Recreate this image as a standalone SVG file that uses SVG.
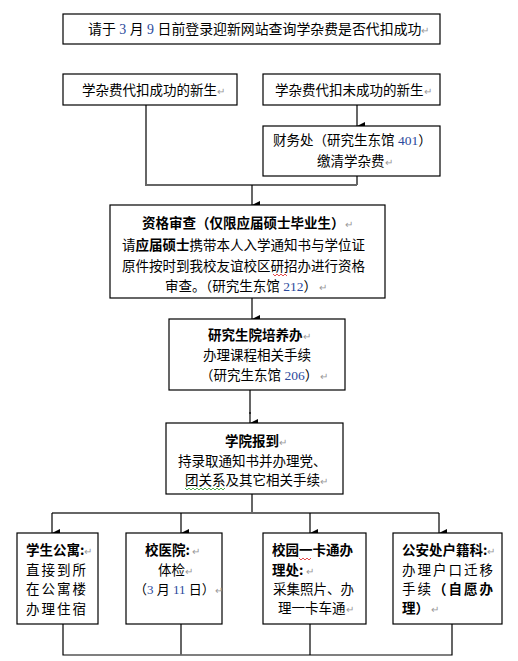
<svg xmlns="http://www.w3.org/2000/svg" width="518" height="661" viewBox="0 0 518 661">
<defs>
<style>
.box{fill:#fff;stroke:#000;stroke-width:1.2}
.t{font-family:"Noto Sans CJK SC","Noto Sans CJK JP",sans-serif;font-size:13.5px;fill:#000}
.b{font-weight:bold}
.n{font-family:"Liberation Serif",serif;fill:#2b4a9c}
.p{font-size:10px;fill:#999;font-weight:normal}
.ls{letter-spacing:2px}
.c{fill:none;stroke:#666;stroke-width:2}
.a{fill:none;stroke:#000;stroke-width:1.2}
.w{fill:none;stroke-width:0.8}
</style>
<marker id="ah" markerUnits="userSpaceOnUse" markerWidth="8" markerHeight="8" refX="4" refY="8" orient="auto-start-reverse" viewBox="0 0 8 8">
<path d="M0,0 L8,0 L4,8 Z" fill="#000"/>
</marker>
</defs>
<rect width="518" height="661" fill="#fff"/>

<g id="connectors">
<polyline class="c" points="146,105 146,185 357,185"/>
<line class="c" x1="357" y1="176" x2="357" y2="185"/>
<line class="a" x1="357" y1="105" x2="357" y2="126" marker-end="url(#ah)"/>
<line class="a" x1="252" y1="185" x2="252" y2="205" marker-end="url(#ah)"/>
<line class="a" x1="252" y1="298" x2="252" y2="319" marker-end="url(#ah)"/>
<line class="c" x1="250" y1="390" x2="250" y2="414"/>
<line class="a" x1="250" y1="412" x2="250" y2="423" marker-end="url(#ah)"/>
<line class="c" x1="252" y1="494" x2="252" y2="513"/>
<line class="c" x1="52" y1="513" x2="439" y2="513"/>
<line class="a" x1="52" y1="513" x2="52" y2="533" marker-end="url(#ah)"/>
<line class="a" x1="181" y1="513" x2="181" y2="533" marker-end="url(#ah)"/>
<line class="a" x1="310" y1="513" x2="310" y2="533" marker-end="url(#ah)"/>
<line class="a" x1="439" y1="513" x2="439" y2="533" marker-end="url(#ah)"/>
<polyline class="a" points="63,624 63,655 452,655 452,624"/>
<line class="c" x1="181" y1="624" x2="181" y2="655"/>
<line class="a" x1="310" y1="624" x2="310" y2="655"/>
</g>

<g id="n-top">
<rect class="box" x="63" y="14" width="377" height="30"/>
<text class="t" x="88" y="34" style="font-size:13.9px">请于<tspan class="n"> 3 </tspan>月<tspan class="n"> 9 </tspan>日前登录迎新网站查询学杂费是否代扣成功<tspan class="p">↵</tspan></text>
</g>

<g id="n-success">
<rect class="box" x="63" y="74" width="174" height="31"/>
<text class="t" x="82" y="95">学杂费代扣成功的新生<tspan class="p">↵</tspan></text>
</g>

<g id="n-fail">
<rect class="box" x="263" y="74" width="177" height="31"/>
<text class="t" x="275" y="95">学杂费代扣未成功的新生<tspan class="p">↵</tspan></text>
</g>

<g id="n-finance">
<rect class="box" x="263" y="126" width="177" height="50"/>
<text class="t" x="273" y="145">财务处（研究生东馆<tspan class="n"> 401</tspan>）</text>
<text class="t" x="317" y="166">缴清学杂费<tspan class="p">↵</tspan></text>
</g>

<g id="n-review">
<rect class="box" x="110" y="205" width="275" height="93"/>
<text class="t b" x="142" y="228">资格审查（仅限应届硕士毕业生）<tspan class="p">↵</tspan></text>
<text class="t" x="122" y="250">请<tspan class="b">应届硕士</tspan>携带本人入学通知书与学位证</text>
<text class="t" x="122" y="271">原件按时到我校友谊校区研招办进行资格</text>
<path class="w" stroke="#e02020" d="M273,274 l2,2 l2,-2 l2,2 l2,-2 l2,2 l2,-2 l2,2"/>
<text class="t" x="165" y="291">审查。（研究生东馆<tspan class="n"> 212</tspan>）<tspan class="p"> ↵</tspan></text>
</g>

<g id="n-training">
<rect class="box" x="169" y="319" width="176" height="71"/>
<text class="t b" x="208" y="340">研究生院培养办<tspan class="p">↵</tspan></text>
<text class="t" x="203" y="360">办理课程相关手续</text>
<text class="t" x="200" y="380">（研究生东馆<tspan class="n"> 206</tspan>）<tspan class="p"> ↵</tspan></text>
</g>

<g id="n-college">
<rect class="box" x="166" y="423" width="177" height="71"/>
<text class="t b" x="225" y="446">学院报到<tspan class="p">↵</tspan></text>
<text class="t" x="178" y="466">持录取通知书并办理党、</text>
<text class="t" x="185" y="485">团关系及其它相关手续<tspan class="p">↵</tspan></text>
<path class="w" stroke="#2a9a2a" d="M185,488 l2,2 l2,-2 l2,2 l2,-2 l2,2 l2,-2 l2,2 l2,-2 l2,2 l2,-2 l2,2 l2,-2 l2,2 l2,-2 l2,2 l2,-2 l2,2 l2,-2 l2,2 l2,-2"/>
</g>

<g id="n-dorm">
<rect class="box" x="17" y="533" width="81" height="91"/>
<text class="t b" x="26" y="555">学生公寓:<tspan class="p">↵</tspan></text>
<text class="t ls" x="26" y="575">直接到所</text>
<text class="t ls" x="26" y="594">在公寓楼</text>
<text class="t ls" x="26" y="614">办理住宿</text>
</g>

<g id="n-hospital">
<rect class="box" x="126" y="533" width="96" height="91"/>
<text class="t b" x="145" y="555">校医院:<tspan class="p">  ↵</tspan></text>
<text class="t" x="158" y="575">体检<tspan class="p">↵</tspan></text>
<text class="t" x="134" y="594" style="font-size:13px">（<tspan class="n">3 </tspan>月<tspan class="n"> 11 </tspan>日）<tspan class="p">↵</tspan></text>
</g>

<g id="n-card">
<rect class="box" x="263" y="533" width="103" height="91"/>
<text class="t b" x="272" y="555">校园一卡通办</text>
<path class="w" stroke="#e02020" d="M299,558 l2,2 l2,-2 l2,2 l2,-2 l2,2 l2,-2"/>
<text class="t b" x="272" y="575">理处:<tspan class="p">  ↵</tspan></text>
<text class="t" x="273" y="594">采集照片、办</text>
<text class="t" x="278" y="613">理一卡车通<tspan class="p">↵</tspan></text>
</g>

<g id="n-police">
<rect class="box" x="393" y="533" width="109" height="91"/>
<text class="t b" x="402" y="555">公安处户籍科:<tspan class="p">↵</tspan></text>
<text class="t ls" x="402" y="575">办理户口迁移</text>
<text class="t ls" x="402" y="594">手续<tspan class="b">（自愿办</tspan></text>
<text class="t b" x="402" y="613">理）<tspan class="p"> ↵</tspan></text>
</g>
</svg>
